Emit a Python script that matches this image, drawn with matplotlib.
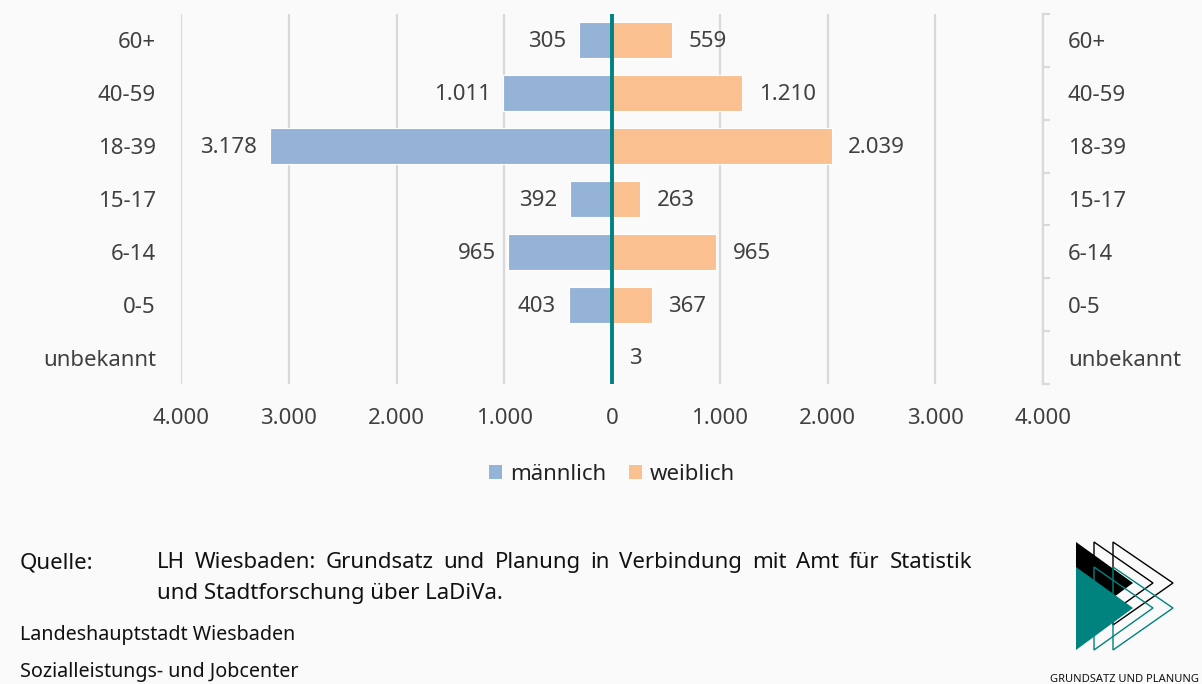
import matplotlib.pyplot as plt
from matplotlib.patches import Polygon, Patch
import numpy as np

plt.rcParams['font.family'] = ['Noto Sans', 'DejaVu Sans']

# data
groups = ['60+', '40-59', '18-39', '15-17', '6-14', '0-5', 'unbekannt']
maennlich = [305, 1011, 3178, 392, 965, 403, 0]
weiblich = [559, 1210, 2039, 263, 965, 367, 3]
xticks = [-4000, -3000, -2000, -1000, 0, 1000, 2000, 3000, 4000]

c_m = '#95b3d7'
c_w = '#fac090'
c_teal = '#00827f'
bg = '#fafafa'
txt = '#404040'
fs = 16


def de(v):
    return f'{abs(int(v)):,}'.replace(',', '.')


fig = plt.figure(figsize=(12.02, 6.84), dpi=100, facecolor=bg)
ax = fig.add_axes([181/1202, 1-384/684, (1043-181)/1202, 370/684])
ax.set_facecolor(bg)

y = np.arange(len(groups))
ax.barh(y, [-v for v in maennlich], height=0.68, color=c_m, edgecolor='white', lw=0.8, zorder=3)
ax.barh(y, weiblich, height=0.68, color=c_w, edgecolor='white', lw=0.8, zorder=3)
ax.axvline(0, color=c_teal, lw=2.8, zorder=5)

for yi, m, w in zip(y, maennlich, weiblich):
    if m > 0:
        ax.annotate(de(m), (-m, yi), xytext=(-9, -1), textcoords='offset points',
                    ha='right', va='center', fontsize=fs, color=txt)
    ax.annotate(de(w), (w, yi), xytext=(12, -1), textcoords='offset points',
                ha='left', va='center', fontsize=fs, color=txt)

ax.set_xlim(-4000, 4000)
ax.set_ylim(len(groups)-0.5, -0.5)
ax.set_xticks(xticks)
ax.set_xticklabels([de(v) for v in xticks], fontsize=fs, color=txt)
ax.set_yticks(y)
ax.set_yticklabels(groups, fontsize=fs, color=txt)
ax.tick_params(axis='both', length=0)
ax.tick_params(axis='x', pad=17)
ax.tick_params(axis='y', pad=18)
ax.grid(axis='x', color='#d9d9d9', lw=1.6, zorder=0)
for s in ax.spines.values():
    s.set_visible(False)

ax2 = ax.twinx()
ax2.set_ylim(ax.get_ylim())
ax2.set_yticks(y)
ax2.set_yticklabels(groups, fontsize=fs, color=txt)
ax2.set_yticks(np.arange(-0.5, len(groups)), minor=True)
ax2.tick_params(axis='y', which='major', length=0, pad=18)
ax2.tick_params(axis='y', which='minor', length=5, width=1.6, color='#d9d9d9', direction='out')
for k, s in ax2.spines.items():
    s.set_visible(k == 'right')
ax2.spines['right'].set_color('#d9d9d9')
ax2.spines['right'].set_linewidth(1.6)

handles = [Patch(facecolor=c_m, label='männlich'), Patch(facecolor=c_w, label='weiblich')]
fig.legend(handles=handles, loc='center', bbox_to_anchor=(612/1202, 1-474/684), ncol=2,
           frameon=False, fontsize=fs, handlelength=0.6, handleheight=0.6,
           handletextpad=0.35, columnspacing=1.0, labelcolor='#222222')

# footer
b1, b2 = 1-568/684, 1-599/684
fig.text(20/1202, b1, 'Quelle:', fontsize=fs, va='baseline', color='#111111')

# justified first line of the source text
line1 = 'LH Wiesbaden: Grundsatz und Planung in Verbindung mit Amt für Statistik'.split()
fig.canvas.draw()
r = fig.canvas.get_renderer()
words = [fig.text(0, b1, w, fontsize=fs, va='baseline', color='#111111') for w in line1]
widths = [t.get_window_extent(r).width for t in words]
gap = (972 - 157 - sum(widths)) / (len(words) - 1)
xpos = 157
for t, wd in zip(words, widths):
    t.set_x(xpos/1202)
    xpos += wd + gap

fig.text(157/1202, b2, 'und Stadtforschung über LaDiVa.', fontsize=fs, va='baseline', color='#111111')
fig.text(20/1202, 1-635/684, 'Landeshauptstadt Wiesbaden', fontsize=14.2, va='center', color='#111111')
fig.text(20/1202, 1-672/684, 'Sozialleistungs- und Jobcenter', fontsize=14.2, va='center', color='#111111')

# logo
def tri(x0, y0, x1, ymid, y1, **kw):
    pts = [(x0/1202, 1-y0/684), (x1/1202, 1-ymid/684), (x0/1202, 1-y1/684)]
    fig.add_artist(Polygon(pts, closed=True, transform=fig.transFigure, **kw))

tri(1076, 542, 1133, 583, 625, facecolor='black', edgecolor='none')
tri(1094, 542, 1153, 583, 625, facecolor='none', edgecolor='black', lw=1)
tri(1113, 542, 1173, 583, 625, facecolor='none', edgecolor='black', lw=1)
tri(1094, 567, 1153, 608, 650, facecolor='none', edgecolor=c_teal, lw=1)
tri(1113, 567, 1173, 608, 650, facecolor='none', edgecolor=c_teal, lw=1)
tri(1076, 567, 1133, 608, 650, facecolor=c_teal, edgecolor='none')
fig.text(1124/1202, 1-679/684, 'GRUNDSATZ UND PLANUNG', fontsize=8, ha='center', va='center',
         color='#111111')

fig.savefig('out.png', dpi=100, facecolor=bg)
